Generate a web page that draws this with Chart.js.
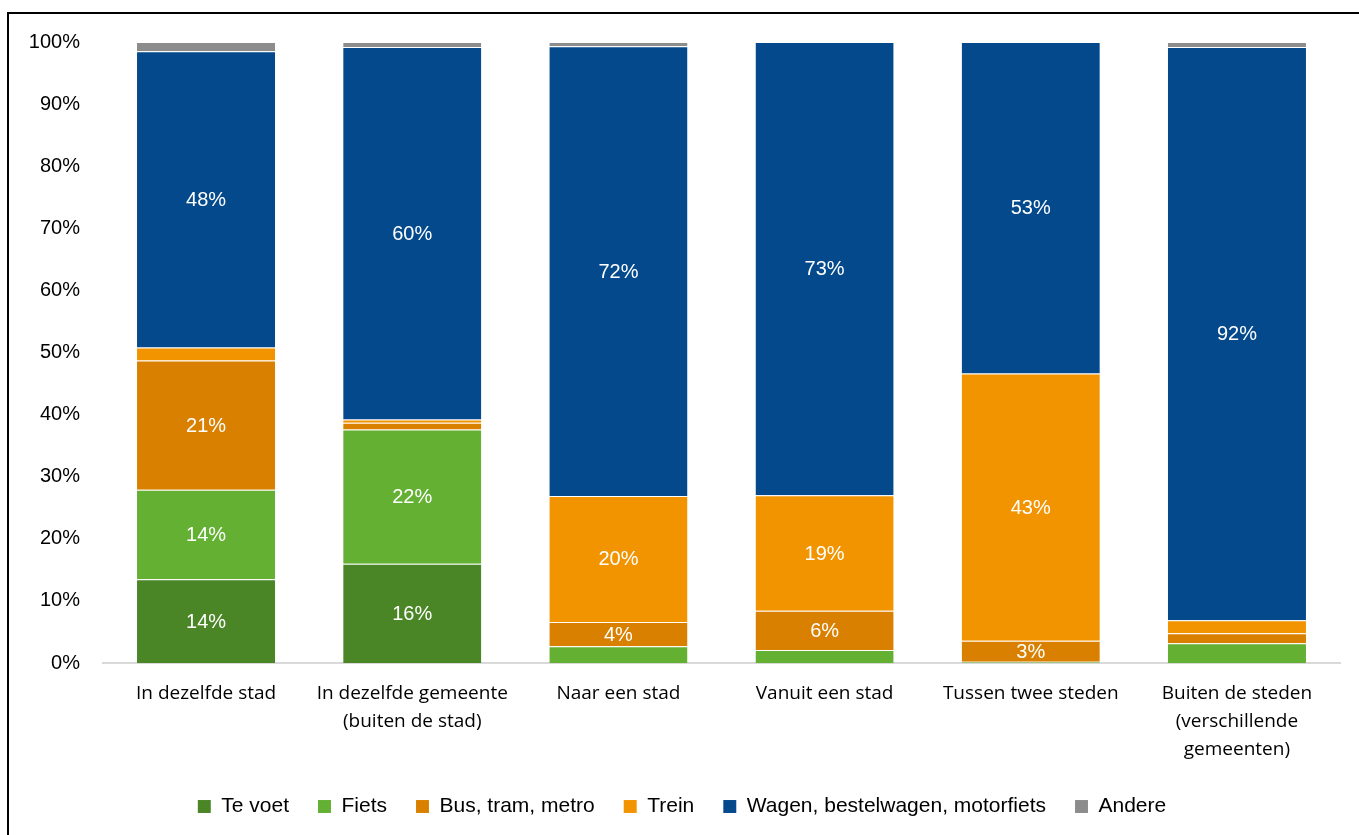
<!DOCTYPE html>
<html>
<head>
<meta charset="utf-8">
<script src="https://cdn.jsdelivr.net/npm/chart.js@4.4.1/dist/chart.umd.min.js"></script>
<style>
  html, body { margin: 0; padding: 0; background: #fff; }
  #wrap { position: relative; width: 1359px; height: 835px; }
</style>
</head>
<body>
<div id="wrap"><canvas id="chart_modalSplit"></canvas></div>
<script>
// categories (multi-line labels as in the original)
var categories = [
    'In dezelfde stad',
    ['In dezelfde gemeente', '(buiten de stad)'],
    'Naar een stad',
    'Vanuit een stad',
    'Tussen twee steden',
    ['Buiten de steden', '(verschillende', 'gemeenten)']
];

// series values in percent
var teVoet   = [13.5, 16.0, 0.0, 0.0, 0.0, 0.0];
var fiets    = [14.4, 21.6, 2.7, 2.1, 0.2, 3.2];
var busTram  = [20.8, 1.1, 3.9, 6.3, 3.4, 1.6];
var trein    = [2.1, 0.5, 20.3, 18.6, 43.0, 2.1];
var wagen    = [47.7, 60.0, 72.4, 73.0, 53.4, 92.3];
var andere   = [1.5, 0.8, 0.7, 0.0, 0.0, 0.8];

var yTicks = [0, 10, 20, 30, 40, 50, 60, 70, 80, 90, 100];
var labelThreshold = 3.3;

function series(label, data, color) {
    return {
        label: label,
        data: data,
        backgroundColor: color,
        borderColor: 'rgba(255,255,255,0.25)',
        borderWidth: { top: 1, bottom: 0, left: 0, right: 0 },
        borderSkipped: false,
        barPercentage: 0.67,
        categoryPercentage: 1.0
    };
}

var chart_modalSplit = new Chart(document.getElementById('chart_modalSplit'), {
    type: 'bar',
    data: {
        labels: categories,
        datasets: [
            series('Te voet', teVoet, '#4a8526'),
            series('Fiets', fiets, '#63b032'),
            series('Bus, tram, metro', busTram, '#d98000'),
            series('Trein', trein, '#f29400'),
            series('Wagen, bestelwagen, motorfiets', wagen, '#03498c'),
            series('Andere', andere, '#8c8c8c')
        ]
    },
    options: {
        animation: false,
        responsive: true,
        maintainAspectRatio: false,
        layout: {
            padding: { top: 42, right: 19, bottom: 8, left: 24 }
        },
        plugins: {
            legend: {
                position: 'bottom',
                labels: {
                    boxWidth: 13,
                    boxHeight: 13,
                    padding: 29,
                    color: '#000',
                    font: { family: "'Liberation Sans Narrow', 'Arial Narrow', 'Liberation Sans', sans-serif", size: 21 }
                }
            },
            tooltip: { enabled: false }
        },
        scales: {
            x: {
                stacked: true,
                grid: { display: false, drawTicks: false },
                border: { display: true, color: '#d9d9d9', width: 2 },
                ticks: {
                    color: '#000',
                    padding: 17,
                    maxRotation: 0,
                    autoSkip: false,
                    font: { family: "'Open Sans', 'Noto Sans', sans-serif", size: 19, lineHeight: 1.47 }
                },
                afterFit: function (scale) { scale.height = 104; }
            },
            y: {
                stacked: true,
                min: 0,
                max: 100,
                grid: { display: false, drawTicks: false },
                border: { display: false },
                afterBuildTicks: function (scale) {
                    scale.ticks = yTicks.map(function (v) { return { value: v }; });
                },
                ticks: {
                    color: '#000',
                    padding: 23,
                    callback: function (v) { return v + '%'; },
                    font: { family: "'Liberation Sans', Arial, sans-serif", size: 20 }
                },
                afterFit: function (scale) { scale.width = 79; }
            }
        }
    },
    plugins: [{
        id: 'customPlugin',
        beforeDraw: (chart, args, options) => {
            const ctx = chart.canvas.getContext('2d');
            ctx.save();
            ctx.globalCompositeOperation = 'destination-over';
            ctx.fillStyle = 'white';
            ctx.fillRect(0, 0, chart.canvas.width, chart.canvas.height);
            ctx.restore();
            // frame lines at top and left
            ctx.save();
            ctx.strokeStyle = '#000';
            ctx.lineWidth = 2;
            ctx.beginPath();
            ctx.moveTo(8, 835);
            ctx.lineTo(8, 13);
            ctx.lineTo(1359, 13);
            ctx.stroke();
            ctx.restore();
        },
        afterDatasetsDraw: (chart) => {
            const ctx = chart.ctx;
            ctx.save();
            ctx.fillStyle = '#fff';
            ctx.font = "20px 'Liberation Sans', Arial, sans-serif";
            ctx.textAlign = 'center';
            ctx.textBaseline = 'middle';
            chart.data.datasets.forEach((ds, i) => {
                const meta = chart.getDatasetMeta(i);
                meta.data.forEach((bar, j) => {
                    const v = ds.data[j];
                    if (v < labelThreshold) return;
                    const yMid = (bar.y + bar.base) / 2;
                    ctx.fillText(Math.round(v) + '%', bar.x, yMid + 1);
                });
            });
            ctx.restore();
        }
    }]
});
</script>
</body>
</html>
